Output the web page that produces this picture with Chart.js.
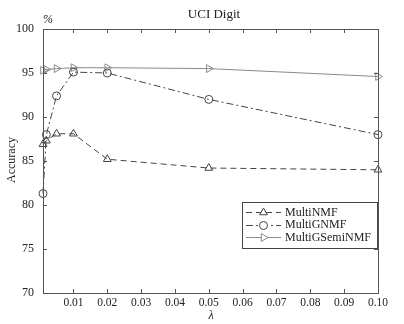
<!DOCTYPE html>
<html>
<head>
<meta charset="utf-8">
<script src="https://cdn.jsdelivr.net/npm/chart.js@4.4.1/dist/chart.umd.min.js"></script>
<style>
html,body{margin:0;padding:0;background:#fff;}
#wrap{width:404px;height:324px;position:relative;}
</style>
</head>
<body>
<div id="wrap"><canvas id="c" width="404" height="324"></canvas></div>
<script>
const lambdas = [0.001, 0.002, 0.005, 0.01, 0.02, 0.05, 0.1];
const multiNMF = [86.9, 87.3, 88.1, 88.1, 85.2, 84.2, 84.0];
const multiGNMF = [81.3, 88.0, 92.4, 95.1, 95.0, 92.0, 88.0];
const multiGSemiNMF = [95.3, 95.4, 95.5, 95.6, 95.6, 95.5, 94.6];
const xTicks = [0.01, 0.02, 0.03, 0.04, 0.05, 0.06, 0.07, 0.08, 0.09, 0.10];
const xTickLabels = ['0.01','0.02','0.03','0.04','0.05','0.06','0.07','0.08','0.09','0.10'];
const yTicks = [70, 75, 80, 85, 90, 95, 100];
const seriesNames = ['MultiNMF', 'MultiGNMF', 'MultiGSemiNMF'];
const titleText = 'UCI Digit';

const FONT = '"Liberation Serif"';
const pts = vals => lambdas.map((x, i) => ({x: x, y: vals[i]}));

const frame = {
  id: 'frame',
  afterDatasetsDraw(chart) {
    const ctx = chart.ctx, a = chart.chartArea;
    const xs = chart.scales.x, ys = chart.scales.y;
    ctx.save();
    ctx.strokeStyle = '#555';
    ctx.lineWidth = 1;
    ctx.setLineDash([]);
    ctx.strokeRect(Math.round(a.left) + 0.5, Math.round(a.top) + 0.5, Math.round(a.right - a.left), Math.round(a.bottom - a.top));
    const tl = 4;
    ctx.beginPath();
    xTicks.forEach(v => {
      const px = Math.round(xs.getPixelForValue(v)) + 0.5;
      ctx.moveTo(px, a.bottom); ctx.lineTo(px, a.bottom - tl);
      ctx.moveTo(px, a.top); ctx.lineTo(px, a.top + tl);
    });
    yTicks.forEach(v => {
      const py = Math.round(ys.getPixelForValue(v)) + 0.5;
      ctx.moveTo(a.left, py); ctx.lineTo(a.left + tl, py);
      ctx.moveTo(a.right, py); ctx.lineTo(a.right - tl, py);
    });
    ctx.stroke();

    // texts
    ctx.fillStyle = '#222';
    ctx.textAlign = 'center';
    ctx.textBaseline = 'middle';
    ctx.font = '13px ' + FONT;
    ctx.fillText(titleText, 214, 15);
    ctx.font = 'italic 12px ' + FONT;
    ctx.fillText('%', 48, 20);
    ctx.fillText('\u03bb', 211, 316);
    ctx.save();
    ctx.translate(12, 160);
    ctx.rotate(-Math.PI / 2);
    ctx.font = '12px ' + FONT;
    ctx.fillText('Accuracy', 0, 0);
    ctx.restore();

    // legend
    const lx = 242, ly = 202, lw = 135, lh = 46;
    ctx.fillStyle = '#fff';
    ctx.fillRect(lx, ly, lw, lh);
    ctx.strokeStyle = '#444';
    ctx.strokeRect(lx + 0.5, ly + 0.5, lw, lh);
    const rows = [212, 224.5, 237];
    chart.data.datasets.forEach((ds, i) => {
      const y = Math.round(rows[i]) + 0.5;
      ctx.strokeStyle = ds.borderColor;
      ctx.lineWidth = 1;
      ctx.setLineDash(ds.borderDash || []);
      ctx.beginPath();
      ctx.moveTo(246, y); ctx.lineTo(281, y);
      ctx.stroke();
      ctx.setLineDash([]);
      ctx.fillStyle = '#fff';
      ctx.strokeStyle = ds.pointBorderColor;
      Chart.helpers.drawPoint(ctx, {
        pointStyle: ds.pointStyle, rotation: ds.pointRotation || 0,
        radius: ds.pointRadius, borderWidth: 1
      }, 263.5, y);
      ctx.fillStyle = '#222';
      ctx.textAlign = 'left';
      ctx.font = '12px ' + FONT;
      ctx.fillText(ds.label, 285, rows[i] + 0.5);
    });
    ctx.restore();
  }
};

function build() {
new Chart(document.getElementById('c'), {
  type: 'line',
  data: {
    datasets: [
      {label: seriesNames[0], data: pts(multiNMF), borderColor: '#444', backgroundColor: 'rgba(0,0,0,0)',
       borderWidth: 1, borderDash: [6, 4], pointStyle: 'triangle', pointRadius: 4.5,
       pointBorderColor: '#444', pointBackgroundColor: 'rgba(0,0,0,0)', pointBorderWidth: 1, clip: false},
      {label: seriesNames[1], data: pts(multiGNMF), borderColor: '#444', backgroundColor: 'rgba(0,0,0,0)',
       borderWidth: 1, borderDash: [7, 3, 2, 3], pointStyle: 'circle', pointRadius: 4,
       pointBorderColor: '#444', pointBackgroundColor: 'rgba(0,0,0,0)', pointBorderWidth: 1, clip: false},
      {label: seriesNames[2], data: pts(multiGSemiNMF), borderColor: '#8a8a8a', backgroundColor: 'rgba(0,0,0,0)',
       borderWidth: 1, pointStyle: 'triangle', pointRotation: 90, pointRadius: 4.5,
       pointBorderColor: '#8a8a8a', pointBackgroundColor: 'rgba(0,0,0,0)', pointBorderWidth: 1, clip: false}
    ]
  },
  options: {
    responsive: false,
    animation: false,
    devicePixelRatio: 1,
    layout: {padding: {left: 0, top: 29, right: 26, bottom: 0}},
    plugins: {legend: {display: false}, title: {display: false}, tooltip: {enabled: false}},
    elements: {line: {tension: 0}},
    scales: {
      x: {
        type: 'linear', min: 0.001, max: 0.1,
        grid: {display: false, drawTicks: false}, border: {display: false},
        afterBuildTicks: s => { s.ticks = xTicks.map(v => ({value: v})); },
        afterFit: s => { s.height = 31; },
        ticks: {padding: 3, color: '#222', font: {family: FONT, size: 11.5},
                maxRotation: 0, autoSkip: false,
                callback: (v, i) => xTickLabels[i]}
      },
      y: {
        min: 70, max: 100,
        grid: {display: false, drawTicks: false}, border: {display: false},
        afterBuildTicks: s => { s.ticks = yTicks.map(v => ({value: v})); },
        afterFit: s => { s.width = 43; },
        ticks: {padding: 9, color: '#222', font: {family: FONT, size: 12}}
      }
    }
  },
  plugins: [frame]
});
}
Promise.all([
  document.fonts.load('12px "Liberation Serif"'),
  document.fonts.load('italic 12px "Liberation Serif"')
]).then(build, build);
</script>
</body>
</html>
